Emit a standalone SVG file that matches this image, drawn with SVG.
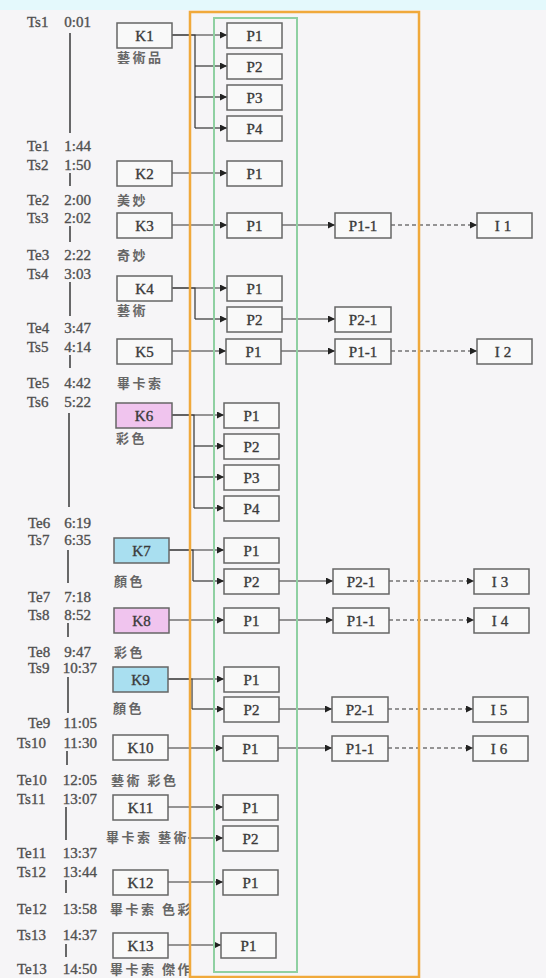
<svg xmlns="http://www.w3.org/2000/svg" width="546" height="978" viewBox="0 0 546 978">
  <style>
    .tl { font-family: "Liberation Serif", "Times New Roman", serif; font-size: 15px; fill: #505050; stroke: #505050; stroke-width: 0.35; }
    .zh { font-family: "Noto Sans CJK TC", "Noto Sans CJK SC", sans-serif; font-size: 13px; font-weight: bold; fill: #666; letter-spacing: 2.5px; }
    .axis { stroke: #444; stroke-width: 1.6; }
    .box { fill: #f9f9f9; stroke: #666; stroke-width: 1.5; }
    .pink { fill: #f0c4ee; }
    .cyan { fill: #a9dff0; }
    .lbl { font-family: "Liberation Serif", "Times New Roman", serif; font-size: 15px; fill: #3a3a3a; stroke: #3a3a3a; stroke-width: 0.35; text-anchor: middle; }
    .ln { fill: none; stroke: #333; stroke-width: 1.2; }
    .arr { marker-end: url(#ah); }
    .dash { stroke-dasharray: 4 3; }
  </style>
  <defs>
    <marker id="ah" markerUnits="userSpaceOnUse" markerWidth="8" markerHeight="8" refX="7" refY="3.5" orient="auto">
      <path d="M0,0 L7,3.5 L0,7 z" fill="#222"/>
    </marker>
  </defs>

  <!-- background -->
  <rect x="0" y="0" width="546" height="978" fill="#f6f5f7"/>
  <rect x="0" y="0" width="546" height="10" fill="#e4f9fc"/>

  <!-- time axis -->
  <g id="timeline">
    <text class="tl" y="27"><tspan x="27">Ts1</tspan><tspan x="91" text-anchor="end">0:01</tspan></text>
    <line class="axis" x1="70" y1="33" x2="70" y2="133"/>
    <text class="tl" y="151"><tspan x="27">Te1</tspan><tspan x="91" text-anchor="end">1:44</tspan></text>
    <text class="tl" y="170"><tspan x="27">Ts2</tspan><tspan x="91" text-anchor="end">1:50</tspan></text>
    <line class="axis" x1="70" y1="173" x2="70" y2="186"/>
    <text class="tl" y="205"><tspan x="27">Te2</tspan><tspan x="91" text-anchor="end">2:00</tspan></text>
    <text class="tl" y="223"><tspan x="27">Ts3</tspan><tspan x="91" text-anchor="end">2:02</tspan></text>
    <line class="axis" x1="70" y1="226" x2="70" y2="242"/>
    <text class="tl" y="260"><tspan x="27">Te3</tspan><tspan x="91" text-anchor="end">2:22</tspan></text>
    <text class="tl" y="279"><tspan x="27">Ts4</tspan><tspan x="91" text-anchor="end">3:03</tspan></text>
    <line class="axis" x1="70" y1="282" x2="70" y2="316"/>
    <text class="tl" y="333"><tspan x="27">Te4</tspan><tspan x="91" text-anchor="end">3:47</tspan></text>
    <text class="tl" y="352"><tspan x="27">Ts5</tspan><tspan x="91" text-anchor="end">4:14</tspan></text>
    <line class="axis" x1="70" y1="355" x2="70" y2="368"/>
    <text class="tl" y="388"><tspan x="27">Te5</tspan><tspan x="91" text-anchor="end">4:42</tspan></text>
    <text class="tl" y="407"><tspan x="27">Ts6</tspan><tspan x="91" text-anchor="end">5:22</tspan></text>
    <line class="axis" x1="69" y1="413" x2="69" y2="507"/>
    <text class="tl" y="528"><tspan x="28">Te6</tspan><tspan x="91" text-anchor="end">6:19</tspan></text>
    <text class="tl" y="545"><tspan x="28">Ts7</tspan><tspan x="91" text-anchor="end">6:35</tspan></text>
    <line class="axis" x1="68" y1="550" x2="68" y2="583"/>
    <text class="tl" y="602"><tspan x="28">Te7</tspan><tspan x="91" text-anchor="end">7:18</tspan></text>
    <text class="tl" y="620"><tspan x="28">Ts8</tspan><tspan x="91" text-anchor="end">8:52</tspan></text>
    <line class="axis" x1="68" y1="623" x2="68" y2="637"/>
    <text class="tl" y="657"><tspan x="28">Te8</tspan><tspan x="91" text-anchor="end">9:47</tspan></text>
    <text class="tl" y="673"><tspan x="28">Ts9</tspan><tspan x="97" text-anchor="end">10:37</tspan></text>
    <line class="axis" x1="68" y1="677" x2="68" y2="713"/>
    <text class="tl" y="728"><tspan x="28">Te9</tspan><tspan x="97" text-anchor="end">11:05</tspan></text>
    <text class="tl" y="748"><tspan x="17">Ts10</tspan><tspan x="97" text-anchor="end">11:30</tspan></text>
    <line class="axis" x1="67" y1="751" x2="67" y2="765"/>
    <text class="tl" y="785"><tspan x="17">Te10</tspan><tspan x="97" text-anchor="end">12:05</tspan></text>
    <text class="tl" y="804"><tspan x="17">Ts11</tspan><tspan x="97" text-anchor="end">13:07</tspan></text>
    <line class="axis" x1="66" y1="807" x2="66" y2="840"/>
    <text class="tl" y="858"><tspan x="17">Te11</tspan><tspan x="97" text-anchor="end">13:37</tspan></text>
    <text class="tl" y="877"><tspan x="17">Ts12</tspan><tspan x="97" text-anchor="end">13:44</tspan></text>
    <line class="axis" x1="66" y1="880" x2="66" y2="893"/>
    <text class="tl" y="914"><tspan x="17">Te12</tspan><tspan x="97" text-anchor="end">13:58</tspan></text>
    <text class="tl" y="940"><tspan x="17">Ts13</tspan><tspan x="97" text-anchor="end">14:37</tspan></text>
    <line class="axis" x1="66" y1="944" x2="66" y2="957"/>
    <text class="tl" y="974"><tspan x="17">Te13</tspan><tspan x="97" text-anchor="end">14:50</tspan></text>
  </g>

  <!-- keyword captions -->
  <g id="captions">
    <text class="zh" x="117" y="62">藝術品</text>
    <text class="zh" x="117" y="205">美妙</text>
    <text class="zh" x="117" y="260">奇妙</text>
    <text class="zh" x="117" y="315">藝術</text>
    <text class="zh" x="117" y="388">畢卡索</text>
    <text class="zh" x="116" y="443">彩色</text>
    <text class="zh" x="114" y="586">顏色</text>
    <text class="zh" x="114" y="657">彩色</text>
    <text class="zh" x="113" y="713">顏色</text>
    <text class="zh" x="111" y="785">藝術 彩色</text>
    <text class="zh" x="106" y="842">畢卡索 藝術</text>
    <text class="zh" x="110" y="914">畢卡索 色彩</text>
    <text class="zh" x="110" y="974">畢卡索 傑作</text>
  </g>

  <!-- connectors -->
  <g id="connectors">
    <!-- K1 -->
    <path class="ln" d="M172,35 H195 V128"/>
    <path class="ln arr" d="M172,35 H227"/>
    <path class="ln arr" d="M195,66 H227"/>
    <path class="ln arr" d="M195,97 H227"/>
    <path class="ln arr" d="M195,128 H227"/>
    <!-- K2 -->
    <path class="ln arr" d="M172,173 H227"/>
    <!-- K3 -->
    <path class="ln arr" d="M172,225 H227"/>
    <path class="ln arr" d="M282,225 H335"/>
    <path class="ln arr dash" d="M391,225 H477"/>
    <!-- K4 -->
    <path class="ln" d="M172,288 H195 V319"/>
    <path class="ln arr" d="M172,288 H227"/>
    <path class="ln arr" d="M195,319 H227"/>
    <path class="ln arr" d="M282,319 H335"/>
    <!-- K5 -->
    <path class="ln arr" d="M172,351 H226"/>
    <path class="ln arr" d="M281,351 H335"/>
    <path class="ln arr dash" d="M391,351 H477"/>
    <!-- K6 -->
    <path class="ln" d="M172,415 H194 V508"/>
    <path class="ln arr" d="M172,415 H224"/>
    <path class="ln arr" d="M194,446 H224"/>
    <path class="ln arr" d="M194,477 H224"/>
    <path class="ln arr" d="M194,508 H224"/>
    <!-- K7 -->
    <path class="ln" d="M169,550 H193 V581"/>
    <path class="ln arr" d="M169,550 H224"/>
    <path class="ln arr" d="M193,581 H224"/>
    <path class="ln arr" d="M279,581 H333"/>
    <path class="ln arr dash" d="M389,581 H474"/>
    <!-- K8 -->
    <path class="ln arr" d="M169,620 H224"/>
    <path class="ln arr" d="M279,620 H333"/>
    <path class="ln arr dash" d="M389,620 H474"/>
    <!-- K9 -->
    <path class="ln" d="M168,679 H192 V709"/>
    <path class="ln arr" d="M168,679 H224"/>
    <path class="ln arr" d="M192,709 H224"/>
    <path class="ln arr" d="M279,709 H332"/>
    <path class="ln arr dash" d="M388,709 H473"/>
    <!-- K10 -->
    <path class="ln arr" d="M168,748 H223"/>
    <path class="ln arr" d="M278,748 H332"/>
    <path class="ln arr dash" d="M388,748 H473"/>
    <!-- K11 -->
    <path class="ln arr" d="M168,807 H223"/>
    <path class="ln arr" d="M188,838 H223"/>
    <!-- K12 -->
    <path class="ln arr" d="M168,882 H223"/>
    <!-- K13 -->
    <path class="ln arr" d="M168,945 H221"/>
  </g>

  <!-- frames -->
  <g id="frames" fill="none">
    <rect id="outer-frame" x="190" y="12" width="229" height="965" stroke="#f0a93b" stroke-width="2.5"/>
    <rect id="inner-frame" x="214" y="18" width="83" height="954" stroke="#8fd0a2" stroke-width="2"/>
  </g>

  <!-- keyword nodes -->
  <g id="K1"><rect class="box" x="117" y="23" width="55" height="25"/><text class="lbl" x="144.5" y="41">K1</text></g>
  <g id="K2"><rect class="box" x="117" y="161" width="55" height="25"/><text class="lbl" x="144.5" y="179">K2</text></g>
  <g id="K3"><rect class="box" x="117" y="213" width="55" height="25"/><text class="lbl" x="144.5" y="231">K3</text></g>
  <g id="K4"><rect class="box" x="117" y="276" width="55" height="25"/><text class="lbl" x="144.5" y="294">K4</text></g>
  <g id="K5"><rect class="box" x="117" y="339" width="55" height="25"/><text class="lbl" x="144.5" y="357">K5</text></g>
  <g id="K6"><rect class="box pink" x="116" y="403" width="56" height="25"/><text class="lbl" x="144" y="421">K6</text></g>
  <g id="K7"><rect class="box cyan" x="114" y="538" width="55" height="25"/><text class="lbl" x="141.5" y="556">K7</text></g>
  <g id="K8"><rect class="box pink" x="114" y="608" width="55" height="25"/><text class="lbl" x="141.5" y="626">K8</text></g>
  <g id="K9"><rect class="box cyan" x="113" y="667" width="55" height="25"/><text class="lbl" x="140.5" y="685">K9</text></g>
  <g id="K10"><rect class="box" x="113" y="735" width="55" height="25"/><text class="lbl" x="140.5" y="753">K10</text></g>
  <g id="K11"><rect class="box" x="113" y="795" width="55" height="25"/><text class="lbl" x="140.5" y="813">K11</text></g>
  <g id="K12"><rect class="box" x="113" y="870" width="55" height="25"/><text class="lbl" x="140.5" y="888">K12</text></g>
  <g id="K13"><rect class="box" x="113" y="933" width="55" height="25"/><text class="lbl" x="140.5" y="951">K13</text></g>

  <!-- page nodes -->
  <g id="K1-P1"><rect class="box" x="227" y="23" width="55" height="25"/><text class="lbl" x="254.5" y="41">P1</text></g>
  <g id="K1-P2"><rect class="box" x="227" y="54" width="55" height="25"/><text class="lbl" x="254.5" y="72">P2</text></g>
  <g id="K1-P3"><rect class="box" x="227" y="85" width="55" height="25"/><text class="lbl" x="254.5" y="103">P3</text></g>
  <g id="K1-P4"><rect class="box" x="227" y="116" width="55" height="25"/><text class="lbl" x="254.5" y="134">P4</text></g>
  <g id="K2-P1"><rect class="box" x="227" y="161" width="55" height="25"/><text class="lbl" x="254.5" y="179">P1</text></g>
  <g id="K3-P1"><rect class="box" x="227" y="213" width="55" height="25"/><text class="lbl" x="254.5" y="231">P1</text></g>
  <g id="K4-P1"><rect class="box" x="227" y="276" width="55" height="25"/><text class="lbl" x="254.5" y="294">P1</text></g>
  <g id="K4-P2"><rect class="box" x="227" y="307" width="55" height="25"/><text class="lbl" x="254.5" y="325">P2</text></g>
  <g id="K5-P1"><rect class="box" x="226" y="339" width="55" height="25"/><text class="lbl" x="253.5" y="357">P1</text></g>
  <g id="K6-P1"><rect class="box" x="224" y="403" width="55" height="25"/><text class="lbl" x="251.5" y="421">P1</text></g>
  <g id="K6-P2"><rect class="box" x="224" y="434" width="55" height="25"/><text class="lbl" x="251.5" y="452">P2</text></g>
  <g id="K6-P3"><rect class="box" x="224" y="465" width="55" height="25"/><text class="lbl" x="251.5" y="483">P3</text></g>
  <g id="K6-P4"><rect class="box" x="224" y="496" width="55" height="25"/><text class="lbl" x="251.5" y="514">P4</text></g>
  <g id="K7-P1"><rect class="box" x="224" y="538" width="55" height="25"/><text class="lbl" x="251.5" y="556">P1</text></g>
  <g id="K7-P2"><rect class="box" x="224" y="569" width="55" height="25"/><text class="lbl" x="251.5" y="587">P2</text></g>
  <g id="K8-P1"><rect class="box" x="224" y="608" width="55" height="25"/><text class="lbl" x="251.5" y="626">P1</text></g>
  <g id="K9-P1"><rect class="box" x="224" y="667" width="55" height="25"/><text class="lbl" x="251.5" y="685">P1</text></g>
  <g id="K9-P2"><rect class="box" x="224" y="697" width="55" height="25"/><text class="lbl" x="251.5" y="715">P2</text></g>
  <g id="K10-P1"><rect class="box" x="223" y="736" width="55" height="25"/><text class="lbl" x="250.5" y="754">P1</text></g>
  <g id="K11-P1"><rect class="box" x="223" y="795" width="55" height="25"/><text class="lbl" x="250.5" y="813">P1</text></g>
  <g id="K11-P2"><rect class="box" x="223" y="826" width="55" height="25"/><text class="lbl" x="250.5" y="844">P2</text></g>
  <g id="K12-P1"><rect class="box" x="223" y="870" width="55" height="25"/><text class="lbl" x="250.5" y="888">P1</text></g>
  <g id="K13-P1"><rect class="box" x="221" y="933" width="55" height="25"/><text class="lbl" x="248.5" y="951">P1</text></g>

  <!-- sub-page nodes -->
  <g id="K3-P1-1"><rect class="box" x="335" y="213" width="56" height="25"/><text class="lbl" x="363" y="231">P1-1</text></g>
  <g id="K4-P2-1"><rect class="box" x="335" y="307" width="56" height="25"/><text class="lbl" x="363" y="325">P2-1</text></g>
  <g id="K5-P1-1"><rect class="box" x="335" y="339" width="56" height="25"/><text class="lbl" x="363" y="357">P1-1</text></g>
  <g id="K7-P2-1"><rect class="box" x="333" y="569" width="56" height="25"/><text class="lbl" x="361" y="587">P2-1</text></g>
  <g id="K8-P1-1"><rect class="box" x="333" y="608" width="56" height="25"/><text class="lbl" x="361" y="626">P1-1</text></g>
  <g id="K9-P2-1"><rect class="box" x="332" y="697" width="56" height="25"/><text class="lbl" x="360" y="715">P2-1</text></g>
  <g id="K10-P1-1"><rect class="box" x="332" y="736" width="56" height="25"/><text class="lbl" x="360" y="754">P1-1</text></g>

  <!-- item nodes -->
  <g id="I1"><rect class="box" x="477" y="213" width="55" height="25"/><text class="lbl" x="505" y="231" letter-spacing="4">I1</text></g>
  <g id="I2"><rect class="box" x="477" y="339" width="55" height="25"/><text class="lbl" x="505" y="357" letter-spacing="4">I2</text></g>
  <g id="I3"><rect class="box" x="474" y="569" width="55" height="25"/><text class="lbl" x="502" y="587" letter-spacing="4">I3</text></g>
  <g id="I4"><rect class="box" x="474" y="608" width="55" height="25"/><text class="lbl" x="502" y="626" letter-spacing="4">I4</text></g>
  <g id="I5"><rect class="box" x="473" y="697" width="55" height="25"/><text class="lbl" x="501" y="715" letter-spacing="4">I5</text></g>
  <g id="I6"><rect class="box" x="473" y="736" width="55" height="25"/><text class="lbl" x="501" y="754" letter-spacing="4">I6</text></g>
</svg>
